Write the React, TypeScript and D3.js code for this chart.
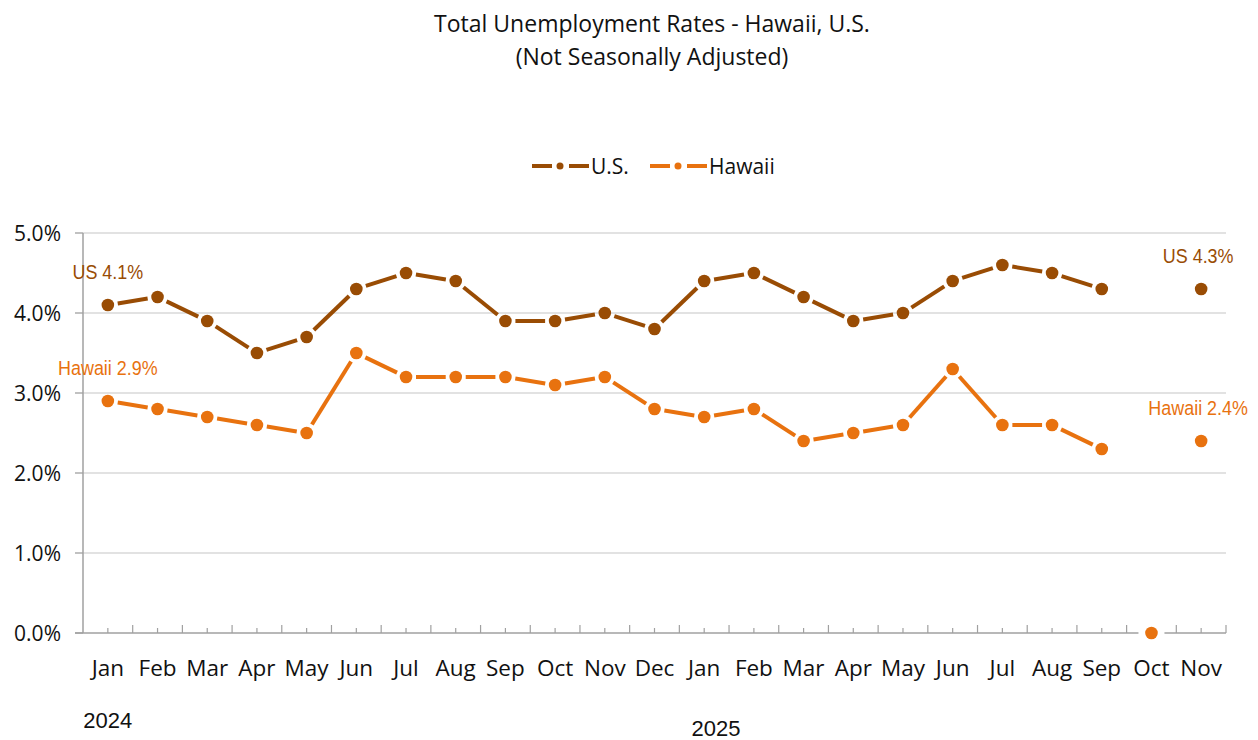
import React from "react";
import * as d3 from "d3";

const months = ["Jan","Feb","Mar","Apr","May","Jun","Jul","Aug","Sep","Oct","Nov","Dec","Jan","Feb","Mar","Apr","May","Jun","Jul","Aug","Sep","Oct","Nov"];
const usValues: (number | null)[] = [4.1,4.2,3.9,3.5,3.7,4.3,4.5,4.4,3.9,3.9,4.0,3.8,4.4,4.5,4.2,3.9,4.0,4.4,4.6,4.5,4.3,null,4.3];
const hawaiiValues: (number | null)[] = [2.9,2.8,2.7,2.6,2.5,3.5,3.2,3.2,3.2,3.1,3.2,2.8,2.7,2.8,2.4,2.5,2.6,3.3,2.6,2.6,2.3,0,2.4];
const yTicks = [0,1,2,3,4,5];
const years = [{ label: "2024", index: 0 }, { label: "2025", index: 12 }];
const seriesNames = ["U.S.", "Hawaii"];
const dataLabels = [
  { series: 0, index: 0, text: "US 4.1%" },
  { series: 1, index: 0, text: "Hawaii 2.9%" },
  { series: 0, index: 22, text: "US 4.3%" },
  { series: 1, index: 22, text: "Hawaii 2.4%" },
];

const W = 1258, H = 740;
const left = 83, right = 1226, top = 233, bottom = 633;
const colors = ["#994C04", "#E8720F"];
const calibri = "'Open Sans', Lato, sans-serif";
const narrow = "'Liberation Sans Narrow', 'Arial Narrow', 'Liberation Sans', sans-serif";

export default function App() {
  const x = d3.scaleBand<number>().domain(months.map((_, i) => i)).range([left, right]);
  const cx = (i: number) => (x(i) as number) + x.bandwidth() / 2;
  const y = d3.scaleLinear().domain([0, 5]).range([bottom, top]);
  const allSeries = [usValues, hawaiiValues];
  const gap = 10;

  const segments = (vals: (number | null)[]) => {
    const out: { x1: number; y1: number; x2: number; y2: number }[] = [];
    for (let i = 0; i < vals.length - 1; i++) {
      const a = vals[i], b = vals[i + 1];
      if (a == null || b == null || a === 0 || b === 0) continue;
      const x1 = cx(i), y1 = y(a), x2 = cx(i + 1), y2 = y(b);
      const len = Math.hypot(x2 - x1, y2 - y1);
      const ux = (x2 - x1) / len, uy = (y2 - y1) / len;
      out.push({ x1: x1 + ux * gap, y1: y1 + uy * gap, x2: x2 - ux * gap, y2: y2 - uy * gap });
    }
    return out;
  };

  const legendItems = [
    { x: 532, textX: 591 },
    { x: 650, textX: 709 },
  ];

  return (
    <svg width={W} height={H} style={{ position: "absolute", left: 0, top: 0, background: "#fff" }}>
      <text x={652} y={32} textAnchor="middle" fontFamily={calibri} fontSize={23} fill="#111">Total Unemployment Rates - Hawaii, U.S.</text>
      <text x={652} y={65} textAnchor="middle" fontFamily={calibri} fontSize={23} fill="#111">(Not Seasonally Adjusted)</text>

      {seriesNames.map((name, s) => {
        const lx = legendItems[s].x;
        return (
          <g key={name}>
            <line x1={lx} x2={lx + 20} y1={166} y2={166} stroke={colors[s]} strokeWidth={4} />
            <circle cx={lx + 28} cy={166} r={3.5} fill={colors[s]} />
            <line x1={lx + 37} x2={lx + 57} y1={166} y2={166} stroke={colors[s]} strokeWidth={4} />
            <text x={legendItems[s].textX} y={174} fontFamily={calibri} fontSize={21} fill="#111">{name}</text>
          </g>
        );
      })}

      {yTicks.filter(t => t > 0).map(t => (
        <line key={t} x1={left} x2={right} y1={y(t)} y2={y(t)} stroke="#D9D9D9" strokeWidth={1.3} />
      ))}
      {yTicks.map(t => (
        <g key={"yt" + t}>
          <line x1={left - 8} x2={left} y1={y(t)} y2={y(t)} stroke="#A0A0A0" strokeWidth={1.3} />
          <text x={61} y={y(t) + 7.5} textAnchor="end" fontFamily={calibri} fontSize={21} fill="#111">{d3.format(".1f")(t)}%</text>
        </g>
      ))}
      <line x1={left} x2={left} y1={top} y2={bottom} stroke="#A0A0A0" strokeWidth={1.5} />
      <line x1={left - 8} x2={right} y1={bottom} y2={bottom} stroke="#A0A0A0" strokeWidth={1.5} />
      {months.map((_, i) => (
        <g key={"xt" + i}>
          <line x1={(x(i) as number) + x.bandwidth()} x2={(x(i) as number) + x.bandwidth()} y1={bottom} y2={bottom - 8} stroke="#A0A0A0" strokeWidth={1.2} />
          <line x1={cx(i)} x2={cx(i)} y1={bottom} y2={bottom - 5} stroke="#A0A0A0" strokeWidth={1.2} />
          <text x={cx(i)} y={676} textAnchor="middle" fontFamily={calibri} fontSize={22.5} fill="#111">{months[i]}</text>
        </g>
      ))}
      {years.map((yr, k) => (
        <text key={yr.label} x={k === 0 ? cx(yr.index) : 716} y={k === 0 ? 728 : 736} textAnchor="middle" fontFamily={narrow} fontSize={22} fill="#111">{yr.label}</text>
      ))}

      {allSeries.map((vals, s) => (
        <g key={"s" + s}>
          {segments(vals).map((g, i) => (
            <line key={i} x1={g.x1} y1={g.y1} x2={g.x2} y2={g.y2} stroke={colors[s]} strokeWidth={4} />
          ))}
          {vals.map((v, i) => v == null ? null : (
            <g key={"m" + i}>
              {v === 0 && <rect x={cx(i) - 13} y={y(v) - 3} width={26} height={6} fill="#fff" />}
              <circle cx={cx(i)} cy={y(v)} r={6.3} fill={colors[s]} />
            </g>
          ))}
        </g>
      ))}

      {dataLabels.map((d, k) => {
        const v = allSeries[d.series][d.index] as number;
        return (
          <text key={k} transform={`translate(${cx(d.index) + (d.index > 0 ? -3 : 0)},${y(v) - 26}) scale(0.92,1)`} textAnchor="middle" fontFamily={narrow} fontSize={19.5} fill={colors[d.series]}>{d.text}</text>
        );
      })}
    </svg>
  );
}
